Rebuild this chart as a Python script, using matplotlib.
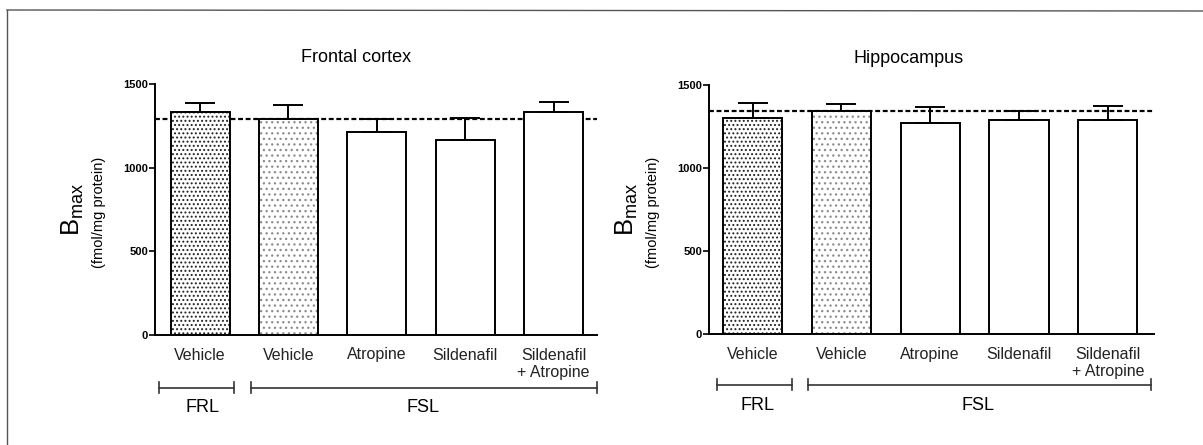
#Importing modules
#===========================================================================
import numpy as np
import matplotlib.pyplot as plt
import matplotlib.transforms as mtransforms
from matplotlib.lines import Line2D

plt.rcParams['font.family'] = ['Liberation Sans', 'DejaVu Sans']
plt.rcParams['hatch.linewidth'] = 0.9

#Data
#===========================================================================
groups = ['Vehicle', 'Vehicle', 'Atropine', 'Sildenafil', 'Sildenafil\n+ Atropine']
titles = ['Frontal cortex', 'Hippocampus']
#Frontal cortex Bmax (mean and upper error)
fc_mean = [1336, 1292, 1213, 1167, 1334]
fc_err = [52, 84, 79, 130, 62]
fc_ref = 1292
#Hippocampus Bmax
hc_mean = [1301, 1345, 1270, 1289, 1289]
hc_err = [91, 42, 96, 53, 83]
hc_ref = 1344
yticks = [0, 500, 1000, 1500]
strains = ['FRL', 'FSL']

#Figure
#===========================================================================
W, H = 1203, 445
fig = plt.figure(figsize=(W / 100, H / 100), dpi=100)

#frame of the scanned page
fig.add_artist(Line2D([7 / W, 7 / W], [0, 1 - 10 / H], color='#555555', lw=1.0))
fig.add_artist(Line2D([7 / W, 1], [1 - 10 / H, 1 - 11 / H], color='#555555', lw=1.0))

#axes boxes in pixels: left, right, y of 0, y of 1500, xlim
panels = [
    dict(l=155, r=597, y0=335, y1=84.3, xlim=(-0.51, 4.49), mean=fc_mean, err=fc_err, ref=fc_ref,
         frl=(-0.46, 0.385), fsl=(0.58, 4.49), by=-0.211, ly=-0.291, lx=(0.03, 2.52)),
    dict(l=709, r=1154, y0=334.3, y1=85, xlim=(-0.49, 4.52), mean=hc_mean, err=hc_err, ref=hc_ref,
         frl=(-0.40, 0.44), fsl=(0.62, 4.49), by=-0.203, ly=-0.284, lx=(0.06, 2.54)),
]

x = np.arange(len(groups))
width = 0.667

for k, p in enumerate(panels):
    ax = fig.add_axes([p['l'] / W, 1 - p['y0'] / H, (p['r'] - p['l']) / W, (p['y0'] - p['y1']) / H])

    #reference level (FRL vehicle)
    ax.axhline(p['ref'], color='black', ls=(0, (2.2, 1.2)), lw=1.6, zorder=1)

    #bar fills
    ax.bar(x[0], p['mean'][0], width, color='white', edgecolor='#222222', linewidth=0,
           hatch='....', zorder=2)
    ax.bar(x[1], p['mean'][1], width, color='white', edgecolor='#8c8c8c', linewidth=0,
           hatch='...', zorder=2)
    ax.bar(x[2:], p['mean'][2:], width, color='white', linewidth=0, zorder=2)
    #outlines
    ax.bar(x, p['mean'], width, fill=False, edgecolor='black', linewidth=1.4, zorder=3)
    ax.errorbar(x, p['mean'], yerr=[np.zeros(len(x)), p['err']], fmt='none', ecolor='black',
                elinewidth=1.4, capsize=10.5, capthick=1.4, zorder=4)

    ax.set_xlim(p['xlim'])
    ax.set_ylim(0, 1500)
    ax.set_yticks(yticks)
    ax.set_yticklabels([str(t) for t in yticks], fontsize=8, fontweight='bold')
    ax.set_xticks(x)
    ax.set_xticklabels(groups, fontsize=11.5, color='#222222')
    ax.tick_params(axis='x', length=0, pad=9)
    ax.tick_params(axis='y', length=4, width=1.2, pad=1)
    for s in ['top', 'right']:
        ax.spines[s].set_visible(False)
    for s in ['left', 'bottom']:
        ax.spines[s].set_linewidth(1.4)

    #title
    ax.text(1.76, 1.105, titles[k], transform=mtransforms.blended_transform_factory(ax.transData, ax.transAxes),
            ha='center', va='center', fontsize=13)

    #y label
    wpx = p['r'] - p['l']
    ax.text(-82 / wpx, 0.5, r'$\mathregular{B_{max}}$', transform=ax.transAxes, rotation=90,
            ha='center', va='center', fontsize=18.5)
    ax.text(-56 / wpx, 0.49, '(fmol/mg protein)', transform=ax.transAxes, rotation=90,
            ha='center', va='center', fontsize=10.5)

    #strain brackets
    trans = mtransforms.blended_transform_factory(ax.transData, ax.transAxes)
    for (a, b), lx, name in zip([p['frl'], p['fsl']], p['lx'], strains):
        ax.plot([a, b], [p['by'], p['by']], color='#333333', lw=1.2, transform=trans, clip_on=False)
        for e in (a, b):
            ax.plot([e, e], [p['by'] - 0.022, p['by'] + 0.022], color='#333333', lw=1.2,
                    transform=trans, clip_on=False)
        ax.text(lx, p['ly'], name, transform=trans, ha='center', va='center', fontsize=13)

plt.savefig('out.png', dpi=100)
